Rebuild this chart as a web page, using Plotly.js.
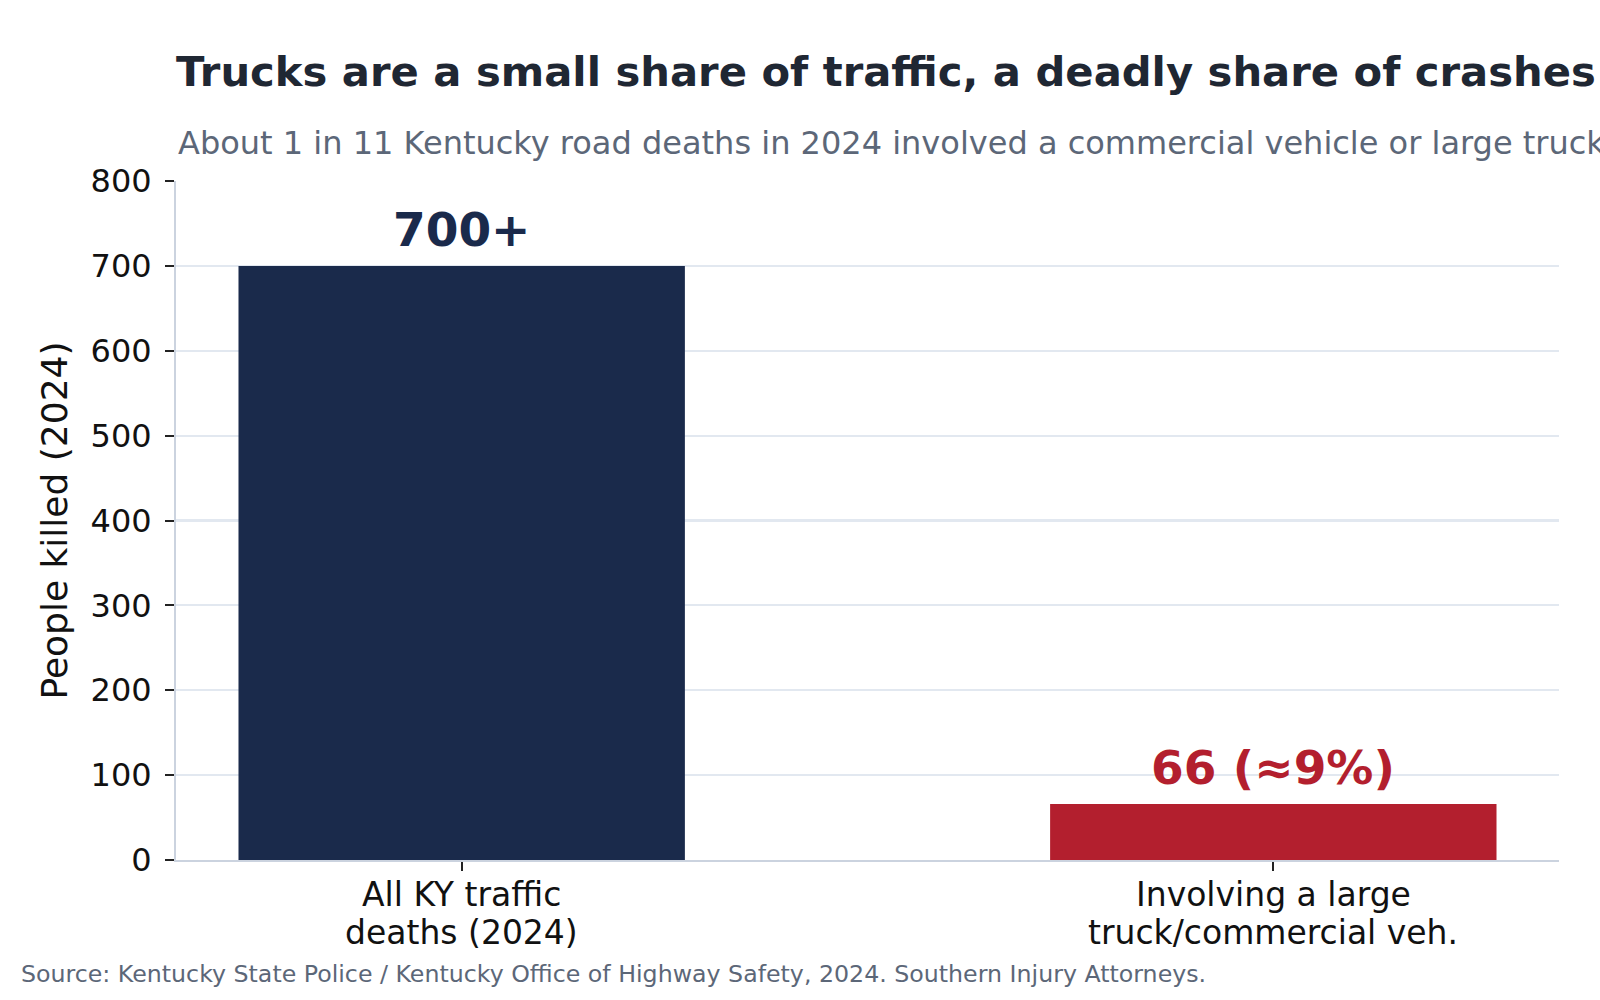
<!DOCTYPE html>
<html>
<head>
<meta charset="utf-8">
<script src="https://cdn.plot.ly/plotly-3.0.1.min.js"></script>
<style>
  html, body { margin: 0; padding: 0; background: #ffffff; }
  #chart { width: 1600px; height: 1000px; }
</style>
</head>
<body>
<div id="chart"></div>
<script>
// Kentucky traffic deaths, 2024
const categories = ["All KY traffic<br>deaths (2024)", "Involving a large<br>truck/commercial veh."];
const deaths = [700, 66];
const valueLabels = ["700+", "66 (≈9%)"];
const barColors = ["#1a2a4b", "#b31f2e"];
const yTicks = [0, 100, 200, 300, 400, 500, 600, 700, 800];

const FONT = "DejaVu Sans, Verdana, sans-serif";
const PLOT_H = 679;   // plot-area height in px (1000 - top 181 - bottom 140)
const PLOT_W = 1383;  // plot-area width in px

const trace = {
  type: "bar",
  x: categories,
  y: deaths,
  width: 0.55,
  marker: { color: barColors, line: { width: 0 } },
  hoverinfo: "skip",
  showlegend: false
};

// value labels sitting above each bar
const barLabels = categories.map((c, i) => ({
  x: c,
  y: deaths[i],
  xref: "x",
  yref: "y",
  text: "<b>" + valueLabels[i] + "</b>",
  showarrow: false,
  xanchor: "center",
  yanchor: "middle",
  yshift: 36,
  font: { family: FONT, size: 47, color: barColors[i] }
}));

// category labels, one annotation per line for tighter line spacing
const catLabels = [];
categories.forEach(c => {
  c.split("<br>").forEach((line, j) => {
    catLabels.push({
      x: c,
      xref: "x",
      yref: "paper",
      y: -(34.5 + j * 37.5) / PLOT_H,
      yanchor: "middle",
      xanchor: "center",
      text: line,
      showarrow: false,
      font: { family: FONT, size: 33, color: "#111111" }
    });
  });
});

const layout = {
  width: 1600,
  height: 1000,
  paper_bgcolor: "#ffffff",
  plot_bgcolor: "#ffffff",
  margin: { l: 176, r: 41, t: 181, b: 140, pad: 0 },
  font: { family: FONT, color: "#000000" },
  title: {
    text: "<b>Trucks are a small share of traffic, a deadly share of crashes</b>",
    font: { family: FONT, size: 41.7, color: "#1f2733" },
    xref: "paper",
    x: 0,
    xanchor: "left",
    yref: "container",
    y: 1 - 71 / 1000,
    yanchor: "middle"
  },
  xaxis: {
    type: "category",
    range: [-0.352, 1.352],
    showgrid: false,
    showline: true,
    linecolor: "#cbd3df",
    linewidth: 2,
    ticks: "outside",
    ticklen: 9,
    tickwidth: 2,
    tickcolor: "#222222",
    showticklabels: false,
    zeroline: false,
    fixedrange: true
  },
  yaxis: {
    range: [0, 800],
    tickvals: yTicks,
    ticktext: yTicks.map(String),
    showgrid: true,
    gridcolor: "#e2e8f0",
    gridwidth: 2.2,
    showline: true,
    linecolor: "#cbd3df",
    linewidth: 2,
    ticks: "outside",
    ticklen: 9,
    tickwidth: 2,
    tickcolor: "#222222",
    ticklabelstandoff: 7,
    tickfont: { family: FONT, size: 32, color: "#111111" },
    zeroline: false,
    title: {
      text: "People killed (2024)",
      font: { family: FONT, size: 36, color: "#111111" },
      standoff: 12
    },
    fixedrange: true
  },
  annotations: barLabels.concat(catLabels, [
    {
      text: "About 1 in 11 Kentucky road deaths in 2024 involved a commercial vehicle or large truck",
      xref: "paper",
      yref: "paper",
      x: 0,
      xanchor: "left",
      y: 1 + (181 - 143) / PLOT_H,
      yanchor: "middle",
      showarrow: false,
      font: { family: FONT, size: 32, color: "#5c6778" }
    },
    {
      text: "Source: Kentucky State Police / Kentucky Office of Highway Safety, 2024. Southern Injury Attorneys.",
      xref: "paper",
      yref: "paper",
      x: -157 / PLOT_W,
      xanchor: "left",
      y: -(974 - 860) / PLOT_H,
      yanchor: "middle",
      showarrow: false,
      font: { family: FONT, size: 23.7, color: "#5c6778" }
    }
  ])
};

Plotly.newPlot("chart", [trace], layout, { displayModeBar: false, staticPlot: true });
</script>
</body>
</html>
